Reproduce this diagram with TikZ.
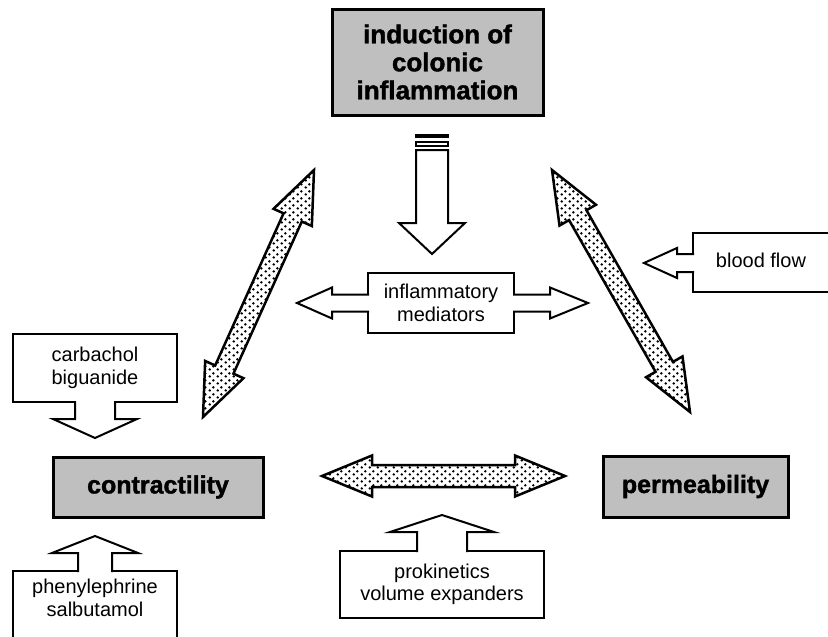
\documentclass[tikz,border=0pt]{standalone}
\usepackage{fontspec}
\setmainfont{Liberation Sans}
\newfontfamily\heavyfont[BoldFeatures={FakeBold=1.5}]{Liberation Sans}
\usetikzlibrary{calc,patterns}

% coarse staggered dots for the fat double arrows
\pgfdeclarepatternformonly{coarsedots}{\pgfqpoint{0pt}{0pt}}{\pgfqpoint{8pt}{7pt}}{\pgfqpoint{8pt}{7pt}}{%
  \pgfpathcircle{\pgfqpoint{2pt}{1.75pt}}{1.5pt}%
  \pgfpathcircle{\pgfqpoint{6pt}{5.25pt}}{1.5pt}%
  \pgfusepath{fill}}

% #1,#2 tips, #3 head length, #4 head half width, #5 shaft half width
\newcommand{\dblarrow}[5]{%
  \draw[dotarrow] (#1) -- ($(#1)!#3!(#2)!#4!90:(#2)$) -- ($(#1)!#3!(#2)!#5!90:(#2)$)
    -- ($(#2)!#3!(#1)!#5!-90:(#1)$) -- ($(#2)!#3!(#1)!#4!-90:(#1)$) -- (#2)
    -- ($(#2)!#3!(#1)!#4!90:(#1)$) -- ($(#2)!#3!(#1)!#5!90:(#1)$)
    -- ($(#1)!#3!(#2)!#5!-90:(#2)$) -- ($(#1)!#3!(#2)!#4!-90:(#2)$) -- cycle;}

\begin{document}
\begin{tikzpicture}[x=1pt, y=-1pt,
  txt/.style={align=center, font=\fontsize{20}{22.5}\selectfont, inner sep=0pt},
  graybox/.style={draw, line width=3pt, fill=black!25, align=center, inner sep=0pt,
    font=\heavyfont\bfseries\fontsize{25}{28}\selectfont},
  wbox/.style={draw, line width=2pt, fill=white, inner sep=0pt},
  blockarrow/.style={draw, line width=2pt, fill=white, line join=miter},
  dotarrow/.style={draw, line width=2.5pt, pattern=coarsedots, line join=miter}
]
\useasboundingbox (0,0) rectangle (828,637);
\clip (0,0) rectangle (828,637);

% main boxes
\node[graybox, minimum width=211, minimum height=106, font=\heavyfont\bfseries\fontsize{26}{28}\selectfont] (induct) at (437.5,62) {induction of\\colonic\\inflammation};
\node[graybox, minimum width=210, minimum height=60] (contr) at (158,487) {contractility};
\node[graybox, minimum width=185, minimum height=61] (perm) at (695.5,486.5) {permeability};

% down arrow under the top box
\draw[blockarrow] (416,134.5) rectangle (448,136.5);
\draw[blockarrow] (416,142) rectangle (448,146);
\coordinate (dtip) at (432,254);
\draw[blockarrow] (416,150) -- (416,223) -- (399,223) -- (dtip) -- (465,223) -- (448,223) -- (448,150) -- cycle;

% mediators with arrows both ways
\node[wbox, txt, minimum width=146, minimum height=60] (medi) at (441,303) {inflammatory\\mediators};
\draw[blockarrow] ($(medi.west)+(2,-8.5)$) -- ++(-37,0) -- ++(0,-7) -- ++(-35,15.5) -- ++(35,15.5) -- ++(0,-7) -- ++(37,0);
\draw[blockarrow] ($(medi.east)+(-2,-8.5)$) -- ++(37,0) -- ++(0,-7) -- ++(38,15.5) -- ++(-38,15.5) -- ++(0,-7) -- ++(-37,0);

% side boxes
\node[wbox, txt, minimum width=164, minimum height=68] (carb) at (95,368) {carbachol\\biguanide};
\draw[blockarrow] ($(carb.south)+(-20,-2)$) -- ++(0,18) -- ++(-22,0) -- ++(42,19) -- ++(42,-19) -- ++(-22,0) -- ++(0,-18);

\node[wbox, minimum width=164, minimum height=90, anchor=north] (phen) at (95,570) {};
\node[txt] (phentxt) at (95,598) {phenylephrine\\salbutamol};
\draw[blockarrow] ($(phen.north)+(-17,2)$) -- ++(0,-19) -- ++(-26,0) -- ++(43,-17) -- ++(43,17) -- ++(-26,0) -- ++(0,19);

\node[wbox, txt, minimum width=204, minimum height=67] (prok) at (442,584.5) {prokinetics\\volume expanders};
\draw[blockarrow] ($(prok.north)+(-25,2)$) -- ++(0,-20) -- ++(-27,0) -- ++(52,-17) -- ++(52,17) -- ++(-27,0) -- ++(0,20);

\node[wbox, minimum width=160, minimum height=59, anchor=west] (blood) at (692,262.5) {};
\node[txt] (bloodtxt) at (761,260) {blood flow};
\draw[blockarrow] ($(blood.west)+(2,-8.5)$) -- ++(-17,0) -- ++(0,-6) -- ++(-33,15) -- ++(33,15) -- ++(0,-6) -- ++(17,0);

% dotted double arrows
\coordinate (lt) at (314,170);
\coordinate (lb) at (203,417);
\coordinate (rt) at (552,170);
\coordinate (rb) at (690,412);
\coordinate (hl) at (322,476);
\coordinate (hr) at (565,476);
\dblarrow{lt}{lb}{52pt}{21pt}{10pt}
\dblarrow{rt}{rb}{52pt}{21pt}{10pt}
\dblarrow{hl}{hr}{50pt}{20.5pt}{11pt}
\end{tikzpicture}
\end{document}
